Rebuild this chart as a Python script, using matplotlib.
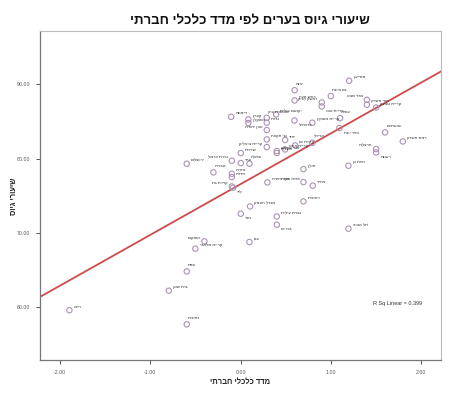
import numpy as np
import matplotlib
matplotlib.use("Agg")
import matplotlib.pyplot as plt

plt.rcParams['font.family'] = ['Liberation Sans', 'DejaVu Sans']

# ---- data ----
cities = ["מודיעין", "יבנה", "נס ציונה", "ראש העין", "ראשון לציון", "קריית אונו",
          "כפר סבא", "הוד השרון", "קריית טבעון", "יקנעם עילית", "דימונה", "קצרין",
          "אשקלון", "מבשרת ציון", "גדרה", "כרמיאל", "קריית מוצקין", "עומר",
          "אבן יהודה", "גני תקווה", "יהוד", "קריית ביאליק", "אור עקיבא", "קריית אתא",
          "קריית ים", "אריאל", "כפר יונה", "גבעתיים", "רמת השרון", "הרצליה",
          "רעננה", "רמת גן", "חולון", "פתח תקוה", "מיתר", "רחובות", "תל אביב",
          "שדרות", "מעלות", "טירת כרמל", "ערד", "עפולה", "ירושלים", "טבריה",
          "נהריה", "חדרה", "קריית גת", "לוד", "אור יהודה", "מגדל העמק", "נשר",
          "נצרת עילית", "בת ים", "עכו", "אופקים", "קריית מלאכי", "צפת", "בית שאן",
          "רהט", "נתיבות"]
ses_index = [1.203, 0.599, 1.000, 0.599, 0.900, 0.900,
             1.399, 1.399, 1.502, 0.394, -0.104, 0.087,
             0.087, 0.291, 0.291, 0.597, 0.796, 1.103,
             0.291, 0.291, 0.494, 0.291, 0.402, 0.494,
             0.605, 0.796, 1.095, 1.601, 1.797, 1.502,
             1.502, 1.195, 0.697, 0.697, 0.800, 0.697, 1.195,
             0.003, 0.402, -0.096, 0.003, 0.099, -0.595, -0.300,
             -0.096, -0.096, -0.096, -0.082, 0.298, 0.106, 0.003,
             0.402, 0.402, 0.099, -0.400, -0.500, -0.595, -0.794,
             -1.895, -0.595]
recruit_rate = [90.50, 89.22, 88.44, 87.85, 87.58, 87.04,
                87.94, 87.27, 86.90, 85.96, 85.65, 85.29,
                84.80, 85.52, 84.85, 85.15, 84.85, 85.48,
                83.86, 82.60, 82.52, 81.57, 81.04, 81.25,
                81.79, 82.15, 84.13, 83.54, 82.33, 81.31,
                80.85, 79.06, 78.60, 76.86, 76.37, 74.25, 70.58,
                80.77, 80.77, 79.73, 79.42, 79.33, 79.33, 78.16,
                77.98, 77.54, 76.27, 76.10, 76.81, 73.58, 72.60,
                72.23, 71.12, 68.79, 68.87, 67.89, 64.83, 62.23,
                59.60, 57.70]
x_ticks = [-2, -1, 0, 1, 2]
y_ticks = [60, 70, 80, 90]
r_sq_text = "R Sq Linear = 0.399"
title = "שיעורי גיוס בערים לפי מדד כלכלי חברתי"
x_title = "מדד כלכלי חברתי"
y_title = "שיעורי גיוס"

# label placement style (L=left, R=right, U=above, D=below-right)
left_labels = {"ראשון לציון", "כפר סבא", "אבן יהודה", "קריית ביאליק", "הרצליה",
               "פתח תקוה", "טירת כרמל", "קריית גת", "אופקים"}
up_labels = {"יבנה", "מבשרת ציון", "עומר", "אריאל", "גבעתיים", "עפולה", "טבריה",
             "צפת", "נתיבות", "נס ציונה"}
down_labels = {"כרמיאל", "כפר יונה", "רעננה", "לוד", "נשר", "בת ים", "קריית אונו"}


def rtl(s):
    return s[::-1]


fig = plt.figure(figsize=(4.5, 3.97), dpi=100)
ax = fig.add_axes([40/450, 37/397, 401/450, 329/397])

xs = np.array(ses_index)
ys = np.array(recruit_rate)

ax.scatter(xs, ys, s=15, facecolors='none', edgecolors='#ab93b5', linewidths=0.8, zorder=3)

slope, intercept = np.polyfit(xs, ys, 1)
xl = np.array([-2.25, 2.25])
ax.plot(xl, intercept + slope * xl, color='#cc4b4b', linewidth=1.3, zorder=2)

for name, x, y in zip(cities, xs, ys):
    if name in left_labels:
        off, ha, va = (-3, 1), 'right', 'bottom'
    elif name in up_labels:
        off, ha, va = (1, 3), 'left', 'bottom'
    elif name in down_labels:
        off, ha, va = (3, -2), 'left', 'top'
    else:
        off, ha, va = (3, 1), 'left', 'bottom'
    ax.annotate(rtl(name), (x, y), xytext=off, textcoords='offset points',
                ha=ha, va=va, fontsize=3.1, color='#333333', zorder=4)

ax.text(0.83, 0.173, r_sq_text, transform=ax.transAxes, fontsize=4.0,
        color='#333333', ha='left', va='center')

ax.set_xlim(-2.22, 2.22)
ax.set_ylim(52.9, 97.2)
ax.set_xticks(x_ticks)
ax.set_yticks(y_ticks)
ax.set_xticklabels([f"{v:.2f}" for v in x_ticks])
ax.set_yticklabels([f"{v:.2f}" for v in y_ticks])
ax.tick_params(axis='both', labelsize=3.8, colors='#555555', length=3, width=0.7,
               direction='out', pad=4)
for side in ['top', 'right']:
    ax.spines[side].set_color('#bbbbbb')
    ax.spines[side].set_linewidth(0.8)
for side in ['left', 'bottom']:
    ax.spines[side].set_color('#777777')
    ax.spines[side].set_linewidth(0.9)

fig.text(250/450, 1 - 21/397, rtl(title), ha='center', va='center',
         fontsize=9.5, fontweight='bold', color='#111111')
fig.text(240/450, 1 - 382/397, rtl(x_title), ha='center', va='center',
         fontsize=5.5, fontweight='bold', color='#222222')
fig.text(15/450, 1 - 196/397, rtl(y_title), ha='center', va='center',
         fontsize=5.5, fontweight='bold', color='#222222', rotation=90)

fig.savefig("out.png", dpi=100)
